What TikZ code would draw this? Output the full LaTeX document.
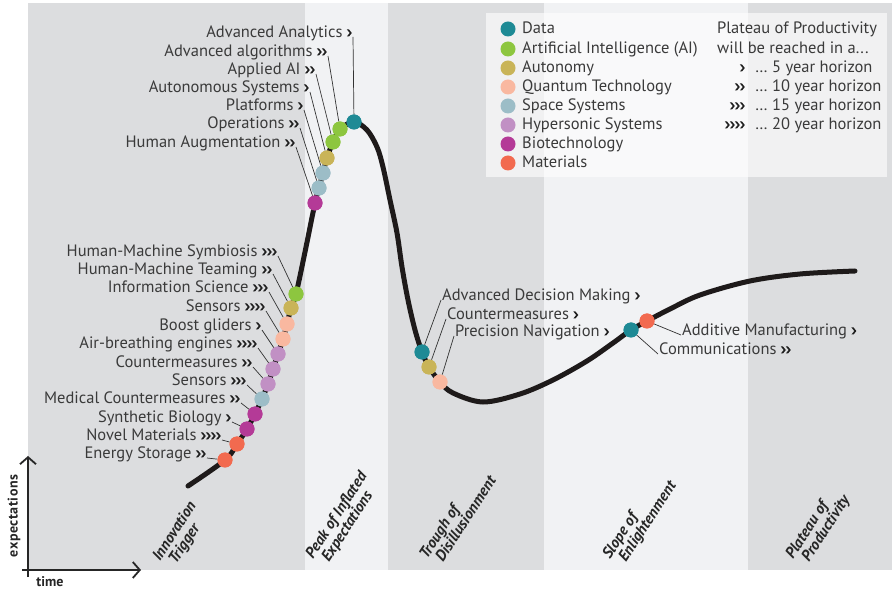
\documentclass[tikz,border=0pt]{standalone}
\usepackage{fontspec}
\setmainfont{PT Sans}
\usetikzlibrary{arrows.meta}
\definecolor{bandA}{HTML}{DCDDDF}
\definecolor{bandB}{HTML}{F1F2F4}
\definecolor{textgrey}{HTML}{3A3A3A}
\definecolor{leadgrey}{HTML}{333333}
\definecolor{curvec}{HTML}{1E1A1A}
\definecolor{cData}{HTML}{1E8A95}
\definecolor{cAI}{HTML}{8DC63F}
\definecolor{cAut}{HTML}{C9B458}
\definecolor{cQuant}{HTML}{F9B8A0}
\definecolor{cSpace}{HTML}{9CBDC7}
\definecolor{cHyp}{HTML}{C190C4}
\definecolor{cBio}{HTML}{B43A97}
\definecolor{cMat}{HTML}{F26A4F}
\newcommand{\chevs}[1]{\tikz[x=1pt,y=1pt,baseline=0pt]{\foreach \k in {1,...,#1}{\fill[black!88] ({(\k-1)*5},7.6) -- ++(2.1,0) -- ++(2.8,-3.5) -- ++(-2.8,-3.5) -- ++(-2.1,0) -- ++(2.8,3.5) -- cycle;}}}
\newcommand{\cvA}{\chevs{1}}
\newcommand{\cvB}{\chevs{2}}
\newcommand{\cvC}{\chevs{3}}
\newcommand{\cvD}{\chevs{4}}
\begin{document}
\begin{tikzpicture}[x=1pt,y=-1pt,
  lab/.style={inner sep=0pt, text height=12pt, text depth=3.8pt, font=\fontsize{16.5}{18}\selectfont, text=textgrey},
  dot/.style={circle, inner sep=0pt, minimum size=15pt},
  leader/.style={draw=leadgrey, line width=0.7pt},
  phase/.style={inner sep=0pt, rotate=57, anchor=base west, font=\fontsize{15.5}{16}\selectfont\bfseries\itshape, text=black!85},
  axis/.style={draw=black!85, line width=1.8pt}]
\useasboundingbox (0,0) rectangle (892,593);
% bands
\fill[bandA] (28,3) rectangle (305,570);
\fill[bandB] (305,3) rectangle (388,570);
\fill[bandA] (388,3) rectangle (544,570);
\fill[bandB] (544,3) rectangle (748,570);
\fill[bandA] (748,3) rectangle (892,570);
% legend box
\fill[white, opacity=0.6] (486,13) rectangle (887,177);
% curve
\draw[curvec, line width=5pt, line cap=round] plot[smooth, tension=0.55] coordinates {
 (188,486) (225,460) (237,444) (247,429) (255,414) (262,399) (268,384) (273,369)
 (278,354) (283,339) (287,324) (291,308) (296,294) (305,252) (315,203) (319,188)
 (323,173) (327,158) (333,142) (340,129) (354,122) (367,130) (377,147) (383,167)
 (390,200) (397,233) (402,267) (408,300) (415,330) (422,352) (429,367) (440,382)
 (453,393) (483,402) (520,394) (553,380) (587,361) (613,343) (631,330) (647,321)
 (670,309) (700,295) (750,281) (800,274) (855,271)};
% dots
\node[dot, fill=cData]  (dAA)  at (354,122) {};
\node[dot, fill=cAI]    (dAAl) at (340,129) {};
\node[dot, fill=cAI]    (dAAI) at (333,142) {};
\node[dot, fill=cAut]   (dAS)  at (327,158) {};
\node[dot, fill=cSpace] (dPL)  at (323,173) {};
\node[dot, fill=cSpace] (dOP)  at (319,188) {};
\node[dot, fill=cBio]   (dHA)  at (315,203) {};
\node[dot, fill=cAI]    (dHMS) at (296,294) {};
\node[dot, fill=cAut]   (dHMT) at (291,308) {};
\node[dot, fill=cQuant] (dIS)  at (287,324) {};
\node[dot, fill=cQuant] (dSa)  at (283,339) {};
\node[dot, fill=cHyp]   (dBG)  at (278,354) {};
\node[dot, fill=cHyp]   (dABE) at (273,369) {};
\node[dot, fill=cHyp]   (dCM)  at (268,384) {};
\node[dot, fill=cSpace] (dSb)  at (262,399) {};
\node[dot, fill=cBio]   (dMC)  at (255,414) {};
\node[dot, fill=cBio]   (dSB)  at (247,429) {};
\node[dot, fill=cMat]   (dNM)  at (237,444) {};
\node[dot, fill=cMat]   (dES)  at (225,460) {};
\node[dot, fill=cData]  (dADM) at (422,352) {};
\node[dot, fill=cAut]   (dCMb) at (429,367) {};
\node[dot, fill=cQuant] (dPN)  at (440,382) {};
\node[dot, fill=cData]  (dCOM) at (631,330) {};
\node[dot, fill=cMat]   (dAM)  at (647,321) {};
% labels (left groups)
\node[lab, anchor=east] (AA)  at (352,33)  {Advanced Analytics \cvA};
\node[lab, anchor=east] (AAl) at (327,52)  {Advanced algorithms \cvB};
\node[lab, anchor=east] (AAI) at (315,70)  {Applied AI \cvB};
\node[lab, anchor=east] (AS)  at (309,88)  {Autonomous Systems \cvA};
\node[lab, anchor=east] (PL)  at (303,106) {Platforms \cvA};
\node[lab, anchor=east] (OP)  at (299,124) {Operations \cvB};
\node[lab, anchor=east] (HA)  at (295,143) {Human Augmentation \cvB};
\node[lab, anchor=east] (HMS) at (277,252) {Human-Machine Symbiosis \cvC};
\node[lab, anchor=east] (HMT) at (272,270) {Human-Machine Teaming \cvB};
\node[lab, anchor=east] (IS)  at (268,288) {Information Science \cvC};
\node[lab, anchor=east] (Sa)  at (265,307) {Sensors \cvD};
\node[lab, anchor=east] (BG)  at (261,326) {Boost gliders \cvA};
\node[lab, anchor=east] (ABE) at (257,344) {Air-breathing engines \cvD};
\node[lab, anchor=east] (CM)  at (252,363) {Countermeasures \cvB};
\node[lab, anchor=east] (Sb)  at (246,381) {Sensors \cvC};
\node[lab, anchor=east] (MC)  at (240,399) {Medical Countermeasures \cvB};
\node[lab, anchor=east] (SB)  at (231,418) {Synthetic Biology \cvA};
\node[lab, anchor=east] (NM)  at (221,436) {Novel Materials \cvD};
\node[lab, anchor=east] (ES)  at (206,454) {Energy Storage \cvB};
% labels (middle and right)
\node[lab, anchor=west] (ADM) at (442,296) {Advanced Decision Making \cvA};
\node[lab, anchor=west] (CMb) at (447,315) {Countermeasures \cvA};
\node[lab, anchor=west] (PN)  at (455,332) {Precision Navigation \cvA};
\node[lab, anchor=west] (AM)  at (682,331) {Additive Manufacturing \cvA};
\node[lab, anchor=west] (COM) at (659,350) {Communications \cvB};
% leaders
\foreach \n in {AA,AAl,AAI,AS,PL,OP,HA,HMS,HMT,IS,Sa,BG,ABE,CM,Sb,MC,SB,NM,ES}
  \draw[leader] ([xshift=1pt,yshift=-4pt]\n.east) -- (d\n);
\foreach \n in {ADM,CMb,PN,AM,COM}
  \draw[leader] ([xshift=-1pt,yshift=-4pt]\n.west) -- (d\n);
% redraw dots on top of leaders
\foreach \n/\c in {AA/cData, AAl/cAI, AAI/cAI, AS/cAut, PL/cSpace, OP/cSpace, HA/cBio,
  HMS/cAI, HMT/cAut, IS/cQuant, Sa/cQuant, BG/cHyp, ABE/cHyp, CM/cHyp, Sb/cSpace,
  MC/cBio, SB/cBio, NM/cMat, ES/cMat, ADM/cData, CMb/cAut, PN/cQuant, COM/cData, AM/cMat}
  \fill[\c] (d\n) circle[radius=7.5pt];
% legend
\foreach \c/\t/\y [count=\i] in {cData/Data/29, cAI/Artificial Intelligence (AI)/49, cAut/Autonomy/68,
  cQuant/Quantum Technology/87, cSpace/Space Systems/106, cHyp/Hypersonic Systems/125,
  cBio/Biotechnology/144, cMat/Materials/163} {
  \node[dot, fill=\c] (ld\i) at (508,\y) {};
  \node[lab, anchor=west] (lt\i) at (522,\y) {\t};
}
\node[lab, anchor=west] (lh1) at (717,29) {Plateau of Productivity};
\node[lab, anchor=west] (lh2) at (717,49) {will be reached in a...};
\node[lab, anchor=east] (lc1) at (745,68)  {\cvA};
\node[lab, anchor=east] (lc2) at (745,87)  {\cvB};
\node[lab, anchor=east] (lc3) at (745,106) {\cvC};
\node[lab, anchor=east] (lc4) at (745,125) {\cvD};
\node[lab, anchor=west] (ly1) at (755,68)  {… 5 year horizon};
\node[lab, anchor=west] (ly2) at (755,87)  {… 10 year horizon};
\node[lab, anchor=west] (ly3) at (755,106) {… 15 year horizon};
\node[lab, anchor=west] (ly4) at (755,125) {… 20 year horizon};
% phases
\node[phase] (p1a) at (160,562) {Innovation};
\node[phase] (p1b) at (176,565) {Trigger};
\node[phase] (p2a) at (313,560) {Peak of Inflated};
\node[phase] (p2b) at (329,563) {Expectations};
\node[phase] (p3a) at (427,560) {Trough of};
\node[phase] (p3b) at (443,563) {Disillusionment};
\node[phase] (p4a) at (610,560) {Slope of};
\node[phase] (p4b) at (626,563) {Enlightenment};
\node[phase] (p5a) at (793,560) {Plateau of};
\node[phase] (p5b) at (809,563) {Productivity};
% axes
\coordinate (yb) at (28,577);
\coordinate (yt) at (28,456);
\coordinate (xl) at (22,570);
\coordinate (xr) at (141,570);
\draw[axis, -{Straight Barb[length=7pt,width=16pt]}] (yb) -- (yt);
\draw[axis, -{Straight Barb[length=7pt,width=16pt]}] (xl) -- (xr);
\node[rotate=90, inner sep=0pt, font=\fontsize{14}{15}\selectfont\bfseries\addfontfeature{LetterSpace=4}, text=black!85] (ex) at (14,516) {expectations};
\node[inner sep=0pt, font=\fontsize{14}{15}\selectfont\bfseries, text=black!85] (tm) at (50,582) {time};
\end{tikzpicture}
\end{document}
